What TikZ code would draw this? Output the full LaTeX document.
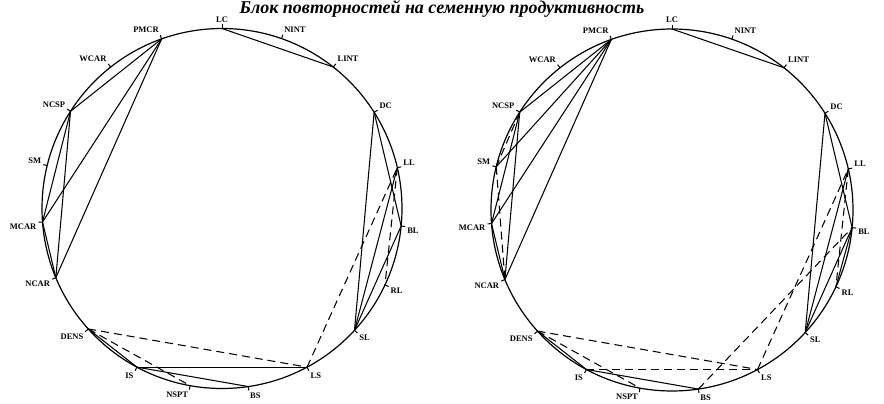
\documentclass[tikz,border=0pt]{standalone}
\usepackage{fontspec}
\setmainfont{Liberation Serif}
\usetikzlibrary{calc}

\tikzset{
  rim/.style={line width=1.2pt},
  chord/.style={line width=1.05pt},
  dline/.style={line width=1.05pt, dash pattern=on 8pt off 5pt},
  notch/.style={line width=1pt},
  lbl/.style={font=\fontsize{8.5}{9}\selectfont\bfseries, inner sep=1pt},
  title/.style={font=\fontsize{18}{20}\selectfont\bfseries\itshape, inner sep=0pt}
}

\begin{document}
\begin{tikzpicture}[x=1pt,y=1pt,label distance=5pt]
\clip (0,0) rectangle (884,404);
\useasboundingbox (0,0) rectangle (884,404);

% Title
\node[title, anchor=base] (head) at (442,390.5) {Блок повторностей на семенную продуктивность};

% Circles
\coordinate (cL) at (222,195.5);
\coordinate (cR) at (672,194);
\draw[rim] (cL) circle (180);
\draw[rim] (cR) circle (181);

% Traits on both circles
\foreach \n/\a in {LC/90, NINT/70.7, LINT/51.8, DC/32.3, LL/13.1, BL/-5.6, RL/-25.1,
                   SL/-42.6, LS/-61.8, BS/-81.6, NSPT/-100.2, IS/-118.2, DENS/-138,
                   NCAR/-157.4, MCAR/-175.7, SM/166.2, NCSP/147.3, WCAR/128.2, PMCR/109.6}{
  \coordinate[label={[lbl]\a:\n}] (L\n) at ($(cL)+(\a:180)$);
  \coordinate[label={[lbl]\a:\n}] (R\n) at ($(cR)+(\a:181)$);
  \draw[notch] (L\n) -- ($(cL)+(\a:184)$);
  \draw[notch] (R\n) -- ($(cR)+(\a:185)$);
}

% Left circle
\foreach \p/\q in {LC/LINT, PMCR/NCSP, PMCR/MCAR, PMCR/NCAR, NCSP/MCAR, NCSP/NCAR,
                   MCAR/NCAR, DC/SL, DC/BL, LL/SL, BL/SL, IS/LS, IS/BS, DENS/IS}
  \draw[chord] (L\p) -- (L\q);
\foreach \p/\q in {LS/LL, LL/RL, DENS/LS, DENS/NSPT}
  \draw[dline] (L\p) -- (L\q);

% Right circle
\foreach \p/\q in {LC/LINT, PMCR/NCSP, PMCR/SM, PMCR/MCAR, PMCR/NCAR, NCSP/MCAR,
                   NCSP/NCAR, MCAR/NCAR, DC/SL, DC/BL, LL/SL, BL/SL, BL/RL, IS/BS, DENS/IS}
  \draw[chord] (R\p) -- (R\q);
\foreach \p/\q in {NCSP/SM, SM/NCAR, LS/LL, BS/BL, LL/RL, DENS/LS, DENS/NSPT, IS/LS}
  \draw[dline] (R\p) -- (R\q);

\end{tikzpicture}
\end{document}
